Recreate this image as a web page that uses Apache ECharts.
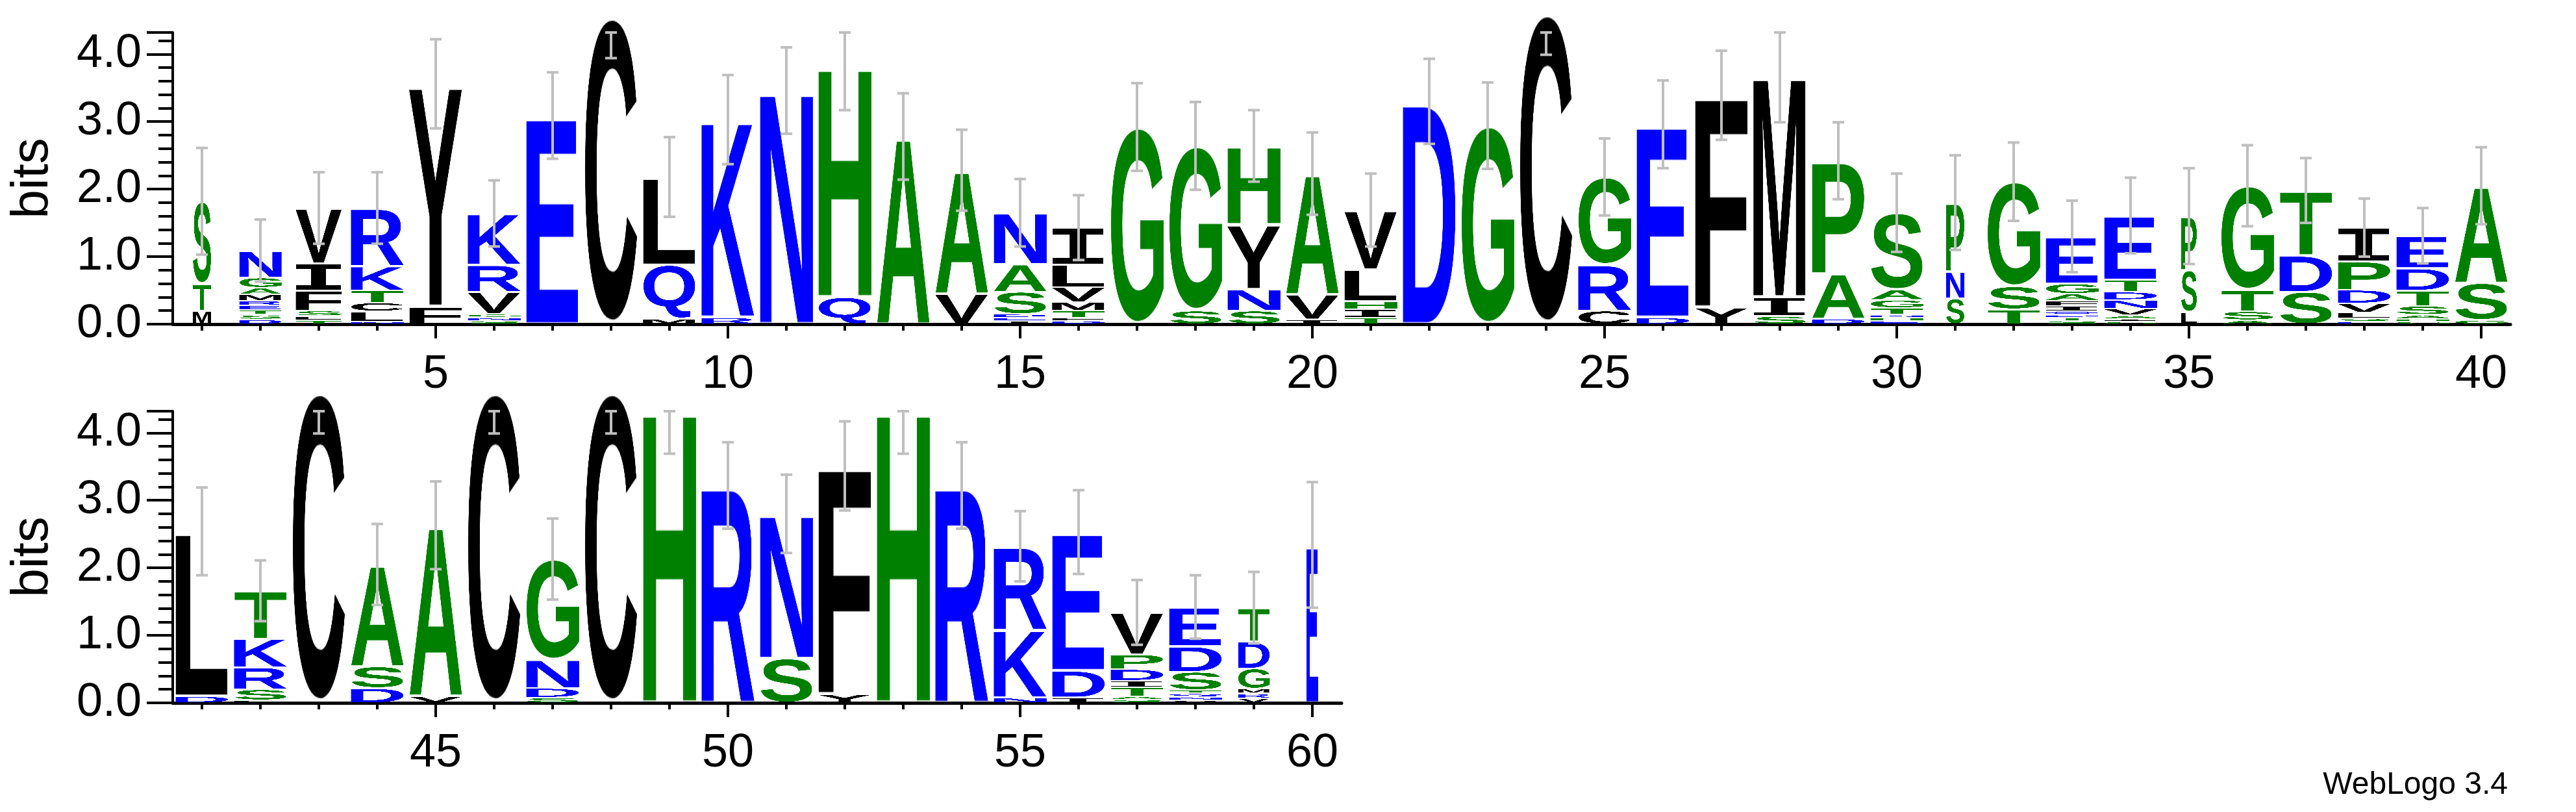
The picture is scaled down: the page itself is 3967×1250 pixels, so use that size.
<!DOCTYPE html>
<html>
<head>
<meta charset="utf-8">
<script src="https://cdn.jsdelivr.net/npm/echarts@6/dist/echarts.min.js"></script>
<style>
html,body{margin:0;padding:0;background:#fff}
#chart{width:3967px;height:1250px}
</style>
</head>
<body>
<div id="chart"></div>
<script>
// residues bottom -> top, for positions 1..60
var letters = ['MTS','DSTERMAGN','TLSFIV','NLCTKR','FY','SNGVRK','E','C','MQL','RK',
  'N','QH','A','VA','IEDSAN','DFTMVLI','G','SG','SNYH','IVA',
  'TIHLV','D','G','C','CRG','DE','YF','SIM','DAP','EHNTGAS',
  'SNP','TSG','STDQIFAGE','SIAVNDTE','LSP','ASTG','SDT','ESLVDPI','GHASTDE','GSA',
  'DL','LSRKT','C','DSA','VA','C','SDNG','C','H','R',
  'SN','YF','H','R','NKR','IDE','SATIDPV','VNQTSDE','VRMGDT','E'];
var heights = [[0.2,0.4,1.22],[0.07,0.07,0.07,0.07,0.07,0.09,0.1,0.15,0.4],[0.06,0.06,0.08,0.3,0.4,0.82],[0.04,0.15,0.13,0.18,0.36,0.86],[0.26,3.3],[0.05,0.05,0.05,0.33,0.4,0.76],[3.09],[4.55],[0.08,0.8,1.3],[0.1,2.93],
  [3.46],[0.4,3.43],[2.78],[0.45,1.83],[0.05,0.05,0.05,0.33,0.41,0.76],[0.05,0.05,0.1,0.13,0.22,0.33,0.55],[2.92],[0.2,2.44],[0.2,0.32,0.96,1.16],[0.07,0.37,1.79],
  [0.1,0.12,0.12,0.47,0.88],[3.3],[2.94],[4.6],[0.2,0.68,1.3],[0.1,2.86],[0.25,3.14],[0.12,0.28,3.29],[0.08,0.67,1.67],[0.05,0.05,0.04,0.1,0.12,0.15,1.14],
  [0.38,0.4,1.02],[0.22,0.34,1.55],[0.05,0.05,0.04,0.05,0.08,0.08,0.1,0.15,0.7],[0.04,0.04,0.05,0.1,0.13,0.12,0.18,0.95],[0.18,0.62,0.8],[0.06,0.13,0.32,1.54],[0.48,0.54,0.96],[0.04,0.05,0.08,0.14,0.2,0.42,0.5],[0.04,0.04,0.06,0.13,0.23,0.33,0.48],[0.06,0.55,1.44],
  [0.1,2.44],[0.04,0.16,0.33,0.42,0.71],[4.6],[0.22,0.32,1.51],[0.1,2.53],[4.6],[0.08,0.14,0.42,1.49],[4.6],[4.34],[3.22],
  [0.66,2.14],[0.13,3.38],[4.34],[3.22],[0.08,1.0,1.24],[0.08,0.4,2.05],[0.05,0.05,0.13,0.1,0.17,0.22,0.62],[0.04,0.05,0.05,0.05,0.27,0.38,0.58],[0.07,0.07,0.07,0.3,0.4,0.5],[2.34]];
var errors = [0.79,0.46,0.53,0.53,0.66,0.49,0.64,0.61,0.59,0.66,
  0.64,0.66,0.64,0.6,0.5,0.48,0.65,0.65,0.53,0.61,
  0.54,0.63,0.64,0.61,0.57,0.65,0.66,0.7,0.57,0.58,
  0.7,0.58,0.53,0.56,0.71,0.6,0.48,0.43,0.41,0.57,
  0.65,0.45,0.61,0.6,0.65,0.61,0.6,0.61,0.65,0.64,
  0.58,0.66,0.65,0.64,0.52,0.62,0.48,0.47,0.53,0.93];
// fraction of sequences present (letter width)
var widths = [0.35,0.8,0.88,1,1,1,1,1,1,1, 1,1,1,1,1,1,1,1,1,1, 1,1,1,1,1,1,1,1,1,1,
  0.35,1,1,1,0.3,1,1,1,1,1, 1,1,1,1,1,1,1,1,1,1, 1,1,1,1,1,1,1,1,0.6,0.22];
var rowRanges = [[1,40],[41,60]];
var yTicks = ['0.0','1.0','2.0','3.0','4.0'];
var maxBits = 4.32;

var colorOf = function(ch){
  if ('DENQKR'.indexOf(ch) >= 0) return '#0000ff';
  if ('GSTAHP'.indexOf(ch) >= 0) return '#008000';
  return '#000000';
};

var glyphCache = {};
function glyph(ch){
  if (glyphCache[ch]) return glyphCache[ch];
  var c = document.createElement('canvas');
  var ctx = c.getContext('2d');
  // the I needs its bars, take it from the mono face
  var font = ch === 'I' ? 'bold 400px "DejaVu Sans Mono", monospace'
                        : 'bold 400px "Liberation Sans", Arial, sans-serif';
  ctx.font = font;
  var m = ctx.measureText(ch);
  var w = Math.ceil(m.actualBoundingBoxLeft + m.actualBoundingBoxRight) + 2;
  var h = Math.ceil(m.actualBoundingBoxAscent + m.actualBoundingBoxDescent) + 2;
  c.width = w; c.height = h;
  ctx.font = font;
  ctx.fillStyle = colorOf(ch);
  ctx.fillText(ch, m.actualBoundingBoxLeft + 1, m.actualBoundingBoxAscent + 1);
  glyphCache[ch] = c;
  return c;
}

function buildRow(r){
  var lettersData = [], errData = [];
  for (var p = rowRanges[r][0]; p <= rowRanges[r][1]; p++){
    var s = letters[p-1], hs = heights[p-1], y = 0;
    for (var i = 0; i < s.length; i++){
      lettersData.push([p, y, y + hs[i], s.charCodeAt(i), widths[p-1]]);
      y += hs[i];
    }
    errData.push([p, Math.max(0, y - errors[p-1]), Math.min(maxBits, y + errors[p-1])]);
  }
  return {letters: lettersData, errs: errData};
}

function renderLetter(params, api){
  var p = api.value(0), w = api.value(4) * 0.92;
  var a = api.coord([p - w/2, api.value(1)]);
  var b = api.coord([p + w/2, api.value(2)]);
  var hgt = a[1] - b[1] - 2;
  if (hgt < 1) hgt = 1;
  return {type:'image', style:{image: glyph(String.fromCharCode(api.value(3))),
    x: a[0], y: b[1] + 1, width: b[0] - a[0], height: hgt}};
}
function renderErr(params, api){
  var p = api.value(0);
  var lo = api.coord([p, api.value(1)]), hi = api.coord([p, api.value(2)]);
  var cw = 9, st = {stroke:'#bfbfbf', lineWidth:4};
  return {type:'group', children:[
    {type:'line', shape:{x1:lo[0], y1:lo[1], x2:hi[0], y2:hi[1]}, style:st},
    {type:'line', shape:{x1:lo[0]-cw, y1:lo[1], x2:lo[0]+cw, y2:lo[1]}, style:st},
    {type:'line', shape:{x1:hi[0]-cw, y1:hi[1], x2:hi[0]+cw, y2:hi[1]}, style:st}
  ]};
}

var fontName = '"Liberation Sans Narrow", "Liberation Sans", Arial, sans-serif';
var grids = [], xAxes = [], yAxes = [], series = [];
var gridTops = [50, 633];
for (var r = 0; r < 2; r++){
  var n = rowRanges[r][1] - rowRanges[r][0] + 1;
  grids.push({left: 266, top: gridTops[r], width: n * 90, height: 449});
  var minorVals = [], majorVals = [];
  for (var p = rowRanges[r][0]; p <= rowRanges[r][1]; p++){
    minorVals.push(p);
    if (p % 5 === 0) majorVals.push(p);
  }
  var xmin = rowRanges[r][0] - 0.5, xmax = rowRanges[r][1] + 0.5;
  xAxes.push({type:'value', gridIndex:r, position:'bottom', min:xmin, max:xmax, splitLine:{show:false},
    axisLine:{show:true, onZero:false, lineStyle:{color:'#000', width:5}},
    axisTick:{show:true, customValues:minorVals, length:10, lineStyle:{color:'#000', width:4}},
    axisLabel:{show:false}});
  xAxes.push({type:'value', gridIndex:r, position:'bottom', min:xmin, max:xmax, splitLine:{show:false},
    axisLine:{show:false, onZero:false},
    axisTick:{show:true, customValues:majorVals, length:22, lineStyle:{color:'#000', width:4}},
    axisLabel:{show:true, customValues:majorVals, margin:42, fontSize:72, color:'#000', fontFamily:fontName}});
  yAxes.push({type:'value', gridIndex:r, min:0, max:maxBits, interval:1,
    name:'bits', nameLocation:'middle', nameGap:175, nameRotate:90,
    nameTextStyle:{fontSize:80, color:'#000', fontFamily:'"Liberation Sans", Arial, sans-serif'},
    splitLine:{show:false},
    axisLine:{show:true, lineStyle:{color:'#000', width:4}},
    axisTick:{show:true, length:40, lineStyle:{color:'#000', width:4}},
    minorTick:{show:true, splitNumber:5, length:22, lineStyle:{color:'#000', width:4}},
    axisLabel:{margin:48, fontSize:72, color:'#000', fontFamily:fontName,
      formatter:function(v){ return yTicks[v] !== undefined ? yTicks[v] : ''; }}});
  var d = buildRow(r);
  series.push({type:'custom', xAxisIndex:2*r, yAxisIndex:r, clip:false, renderItem:renderLetter,
    data:d.letters, silent:true, animation:false});
  series.push({type:'custom', xAxisIndex:2*r, yAxisIndex:r, clip:false, renderItem:renderErr,
    data:d.errs, silent:true, animation:false, z:5});
}

var chart = echarts.init(document.getElementById('chart'));
chart.setOption({
  backgroundColor:'#fff',
  animation:false,
  grid:grids, xAxis:xAxes, yAxis:yAxes, series:series,
  graphic:[{type:'text', right:105, bottom:17,
    style:{text:'WebLogo 3.4', fontSize:48, fill:'#000', fontFamily:'"Liberation Sans", Arial, sans-serif'}}]
});
</script>
</body>
</html>
